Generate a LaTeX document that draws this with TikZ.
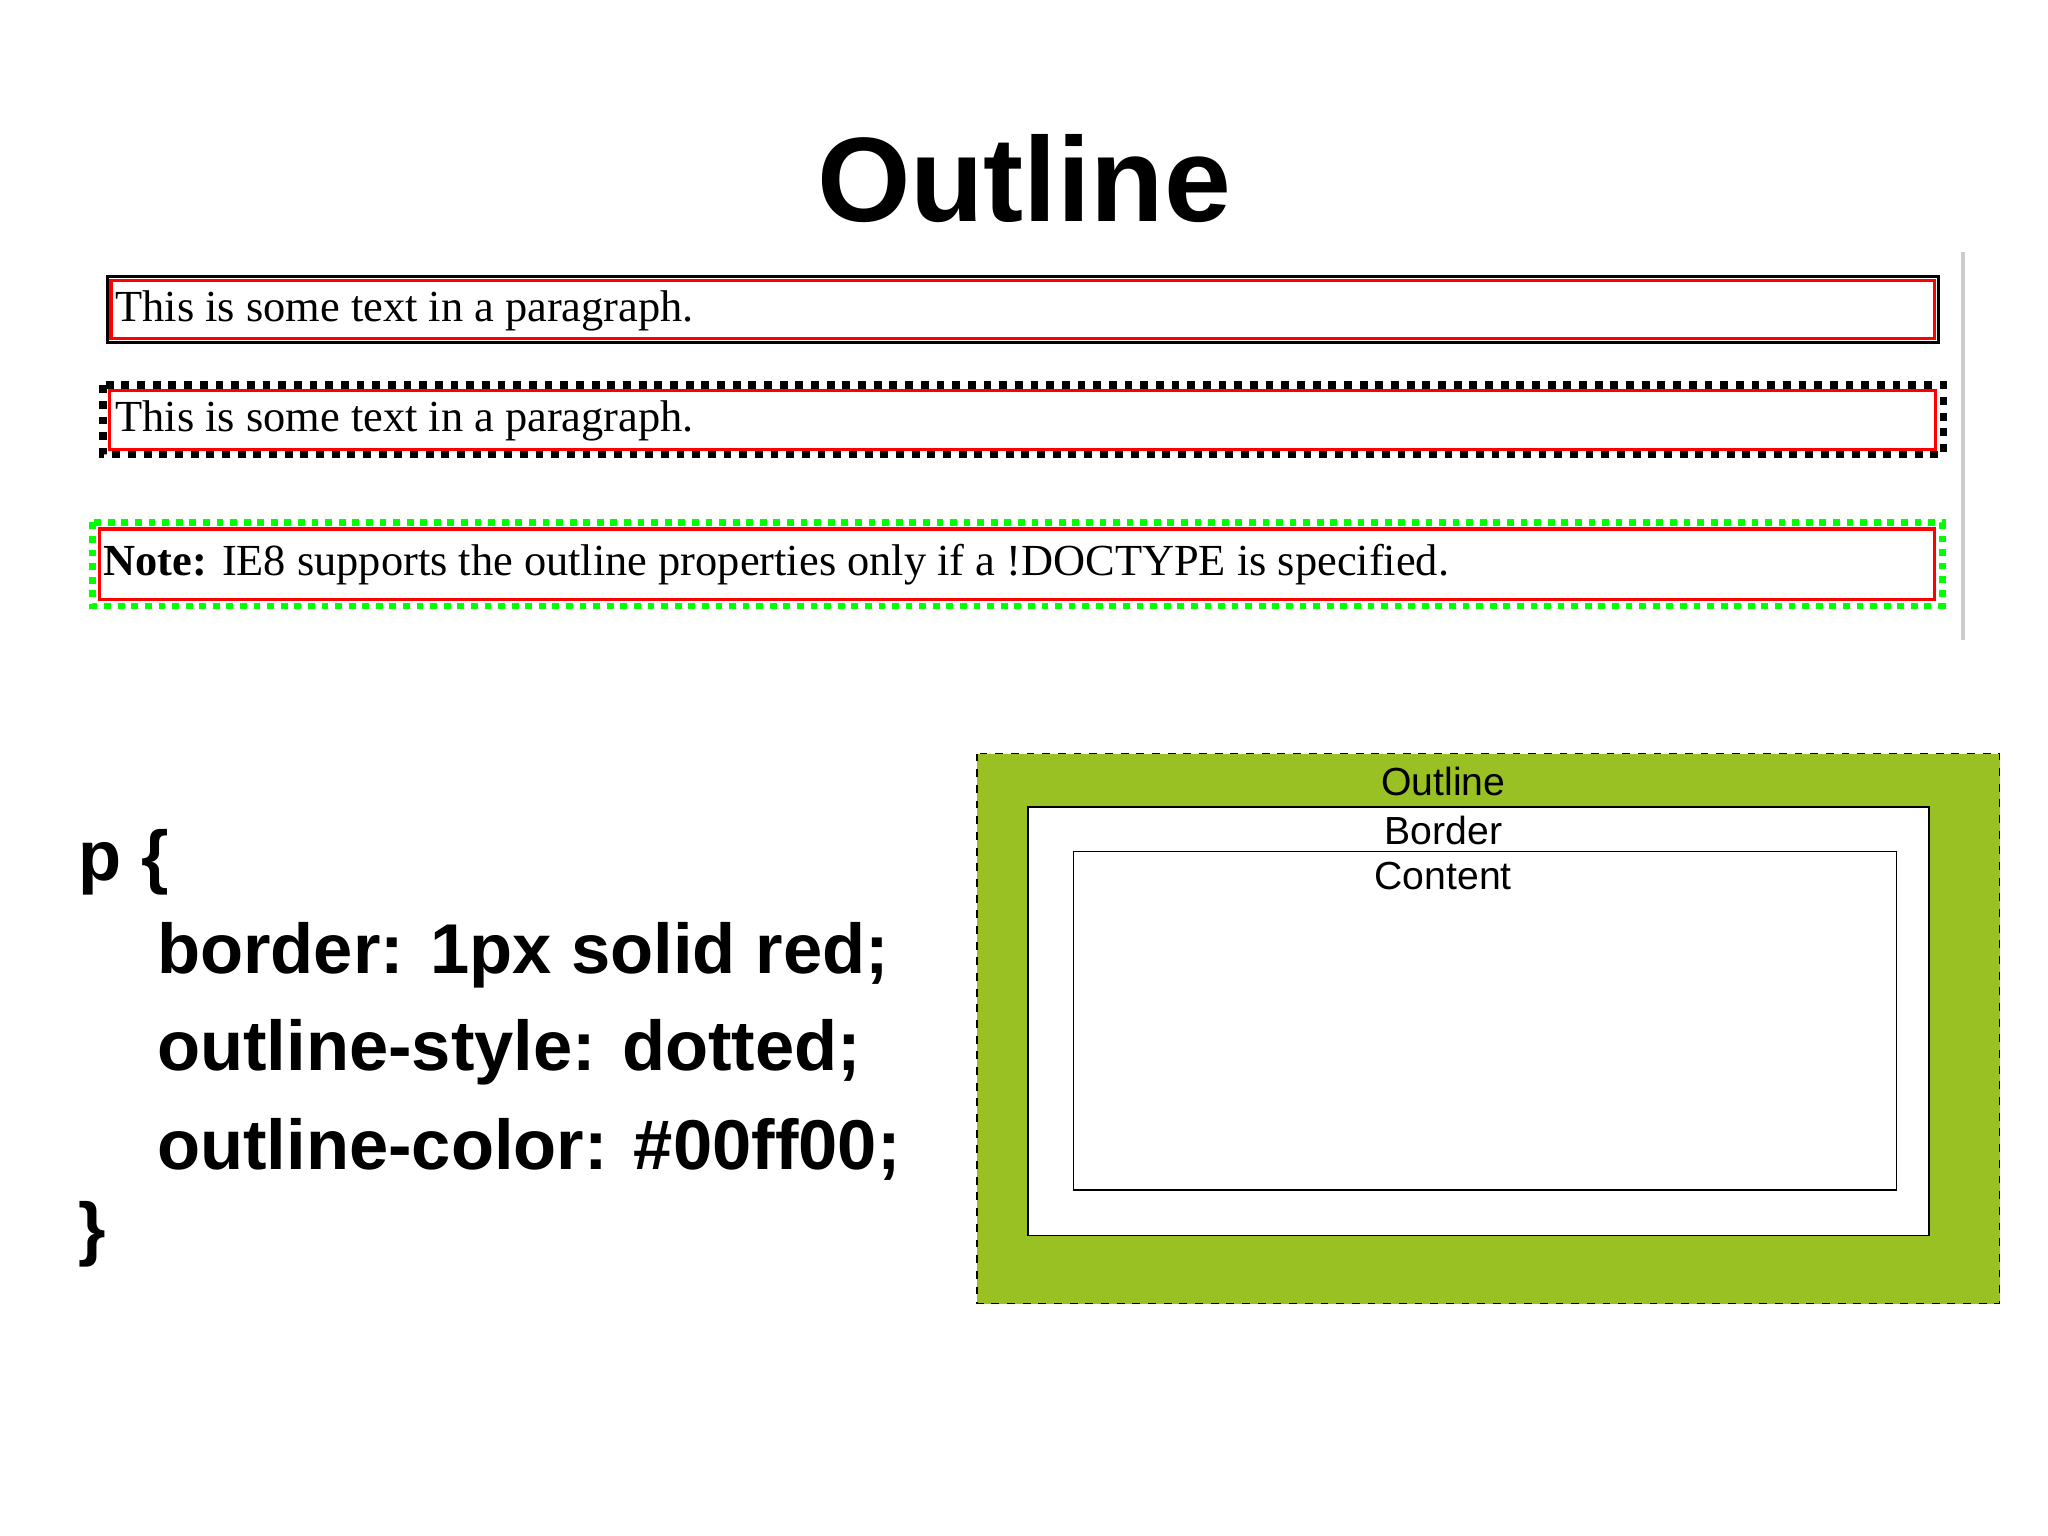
\documentclass[tikz,border=0pt]{standalone}
\usepackage{fontspec}
\setmainfont{Liberation Serif}
\newfontfamily\hv{Liberation Sans}
\definecolor{olgreen}{HTML}{99C124}
\definecolor{brgreen}{HTML}{00FF00}
\begin{document}
\begin{tikzpicture}[x=0.5pt,y=-0.5pt,
  ptext/.style={anchor=west,inner sep=0pt,font=\fontsize{17}{20}\selectfont},
  code/.style={anchor=west,inner sep=0pt,font=\hv\bfseries\fontsize{27}{32}\selectfont},
  lbl/.style={inner sep=0pt,font=\hv\fontsize{15}{18}\selectfont},
  redbox/.style={draw=red,line width=1.2pt}]
\useasboundingbox (0,0) rectangle (1568,1176);
\node[inner sep=0pt,font=\hv\bfseries\fontsize{46}{54}\selectfont] (title) at (784,137) {Outline};
\draw[gray!40,line width=1.5pt] (1503,193) -- (1503,490);
% box 1
\draw[black,line width=1.2pt] (82,212) rectangle (1484,262);
\draw[redbox] (85,215) rectangle (1481,259);
\node[ptext] (t1) at (88,238) {This is some text in a paragraph.};
% box 2
\draw[black,line width=3pt,dash pattern=on 3pt off 3pt] (79,295) rectangle (1488,348);
\draw[redbox] (84,299) rectangle (1482,344);
\node[ptext] (t2) at (88,322) {This is some text in a paragraph.};
% box 3
\draw[brgreen,line width=2.6pt,dash pattern=on 2.6pt off 2.6pt] (71,400) rectangle (1487,464);
\draw[redbox] (76,405) rectangle (1481,459);
\node[ptext] (t3) at (79,432) {\textbf{Note:} IE8 supports the outline properties only if a !DOCTYPE is specified.};
% code
\node[code] (c0) at (60,660) {p \{};
\node[code] (c1) at (120,731) {border: 1px solid red;};
\node[code] (c2) at (120,806) {outline-style: dotted;};
\node[code] (c3) at (120,880) {outline-color: \#00ff00;};
\node[code] (c4) at (60,945) {\}};
% diagram
\draw[fill=olgreen,draw=black,dashed,line width=0.6pt] (748,577) rectangle (1531,998);
\draw[fill=white,draw=black,line width=0.6pt] (787,618) rectangle (1477,946);
\draw[fill=white,draw=black,line width=0.6pt] (822,652) rectangle (1452,911);
\node[lbl] (l1) at (1105,598) {Outline};
\node[lbl] (l2) at (1105,636) {Border};
\node[lbl] (l3) at (1105,671) {Content};
\end{tikzpicture}
\end{document}
